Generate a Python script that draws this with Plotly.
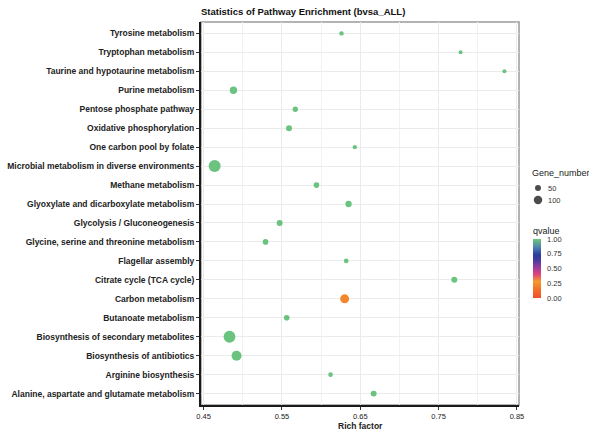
import plotly.graph_objects as go

pathways = [
    "Tyrosine metabolism",
    "Tryptophan metabolism",
    "Taurine and hypotaurine metabolism",
    "Purine metabolism",
    "Pentose phosphate pathway",
    "Oxidative phosphorylation",
    "One carbon pool by folate",
    "Microbial metabolism in diverse environments",
    "Methane metabolism",
    "Glyoxylate and dicarboxylate metabolism",
    "Glycolysis / Gluconeogenesis",
    "Glycine, serine and threonine metabolism",
    "Flagellar assembly",
    "Citrate cycle (TCA cycle)",
    "Carbon metabolism",
    "Butanoate metabolism",
    "Biosynthesis of secondary metabolites",
    "Biosynthesis of antibiotics",
    "Arginine biosynthesis",
    "Alanine, aspartate and glutamate metabolism",
]
rich_factor = [0.626, 0.778, 0.834, 0.488, 0.567, 0.559, 0.643, 0.464, 0.594, 0.635,
               0.547, 0.529, 0.632, 0.770, 0.630, 0.556, 0.483, 0.492, 0.612, 0.667]
gene_number = [28, 17, 12, 75, 40, 50, 26, 200, 45, 56,
               50, 45, 30, 50, 113, 45, 195, 140, 30, 50]
qvalue = [0.99, 0.99, 0.99, 0.99, 0.99, 0.99, 0.99, 0.99, 0.99, 0.99,
          0.99, 0.99, 0.99, 0.99, 0.22, 0.99, 0.99, 0.99, 0.99, 0.99]
legend_sizes = [50, 100]
x_ticks = [0.45, 0.55, 0.65, 0.75, 0.85]
q_ticks = [0.0, 0.25, 0.5, 0.75, 1.0]

W, H = 589, 432
L, T, B = 201, 22, 27
PW = W - L            # paper width (right margin 0)
PH = H - T - B

def px_x(p):  # pixel -> paper x
    return (p - L) / PW

def px_y(p):  # pixel -> paper y
    return (H - B - p) / PH

SIZEREF = 2.8  # plotly area mode: diameter = sqrt(2 * n / sizeref)
colorscale = [
    [0.00, "#F0502A"],
    [0.15, "#F3712A"],
    [0.28, "#F59A2C"],
    [0.40, "#E0447A"],
    [0.52, "#9A3C9E"],
    [0.63, "#4E3CA0"],
    [0.73, "#2B3C9A"],
    [0.85, "#4C7CB4"],
    [1.00, "#6CC87A"],
]

fig = go.Figure()
fig.add_trace(go.Scatter(
    x=rich_factor, y=pathways, mode="markers", showlegend=False,
    marker=dict(size=gene_number, sizemode="area", sizeref=SIZEREF, sizemin=2,
                color=qvalue, colorscale=colorscale, cmin=0, cmax=1,
                line=dict(width=0), opacity=1,
                showscale=True,
                colorbar=dict(
                    title=dict(text="qvalue", side="top", font=dict(size=9, color="#222")),
                    tickvals=q_ticks, ticktext=[f"{v:.2f}" for v in q_ticks],
                    tickfont=dict(size=7.5, color="#333"),
                    lenmode="pixels", len=74, thickness=8,
                    x=px_x(533), xanchor="left", y=px_y(261), yanchor="middle",
                    outlinewidth=0, ticks="outside", ticklen=5,
                    tickcolor="rgba(0,0,0,0)", xpad=0, ypad=0,
                )),
))
# size key (Gene_number) drawn on its own small axes
fig.add_trace(go.Scatter(
    x=[0] * len(legend_sizes), y=[str(n) for n in legend_sizes],
    xaxis="x2", yaxis="y2", mode="markers", showlegend=False, hoverinfo="skip",
    marker=dict(size=legend_sizes, sizemode="area", sizeref=SIZEREF, sizemin=2,
                color="black", line=dict(width=0)),
))

fig.update_layout(
    width=W, height=H,
    margin=dict(l=L, r=0, t=T, b=B, autoexpand=False),
    paper_bgcolor="white", plot_bgcolor="white",
    font=dict(family="Liberation Sans, Arial, sans-serif", color="#333"),
    showlegend=False,
    title=dict(text="<b>Statistics of Pathway Enrichment (bvsa_ALL)</b>",
               x=L / W, xanchor="left", y=1 - 12 / H, yanchor="middle",
               font=dict(size=9.5, color="#111")),
    xaxis=dict(domain=[0, px_x(519)], range=[0.4466, 0.8526], tickvals=x_ticks,
               ticktext=[f"{v:.2f}" for v in x_ticks],
               showgrid=True, gridcolor="#EBEBEB", gridwidth=1,
               minor=dict(dtick=0.1, tick0=0.5, showgrid=True, gridcolor="#F2F2F2", gridwidth=0.6),
               showline=True, linecolor="#1a1a1a", linewidth=2,
               ticks="outside", ticklen=3, tickcolor="#333",
               tickfont=dict(size=7.5, color="#222"), zeroline=False),
    yaxis=dict(categoryorder="array", categoryarray=pathways,
               range=[len(pathways) - 0.4, -0.6],
               showgrid=True, gridcolor="#EBEBEB", gridwidth=1,
               showline=True, linecolor="#1a1a1a", linewidth=2,
               ticks="outside", ticklen=3, tickcolor="#333",
               tickprefix="<b>", ticksuffix="</b>",
               tickfont=dict(size=8.5, color="#222"), zeroline=False),
    xaxis2=dict(domain=[px_x(533), px_x(543)], range=[-1, 1], anchor="y2",
                visible=False, fixedrange=True),
    yaxis2=dict(domain=[px_y(206), px_y(182)], anchor="x2", side="right",
                categoryorder="array", categoryarray=[str(n) for n in legend_sizes],
                range=[len(legend_sizes) - 0.5, -0.5],
                showgrid=False, zeroline=False, showline=False, ticks="",
                ticklabelstandoff=4,
                tickfont=dict(size=7.5, color="#333"), fixedrange=True),
    annotations=[
        dict(text="Gene_number", xref="paper", yref="paper",
             x=px_x(530), y=px_y(173), xanchor="left", yanchor="middle",
             showarrow=False, font=dict(size=9, color="#222")),
        dict(text="<b>Rich factor</b>", xref="x domain", yref="paper",
             x=0.5, y=px_y(425.5), xanchor="center", yanchor="middle",
             showarrow=False, font=dict(size=8.5, color="#222")),
    ],
    shapes=[dict(type="rect", xref="x domain", yref="y domain", x0=0, x1=1, y0=0, y1=1,
                 line=dict(color="#9a9a9a", width=1.5), layer="below")],
)
fig.write_html("out.html")
